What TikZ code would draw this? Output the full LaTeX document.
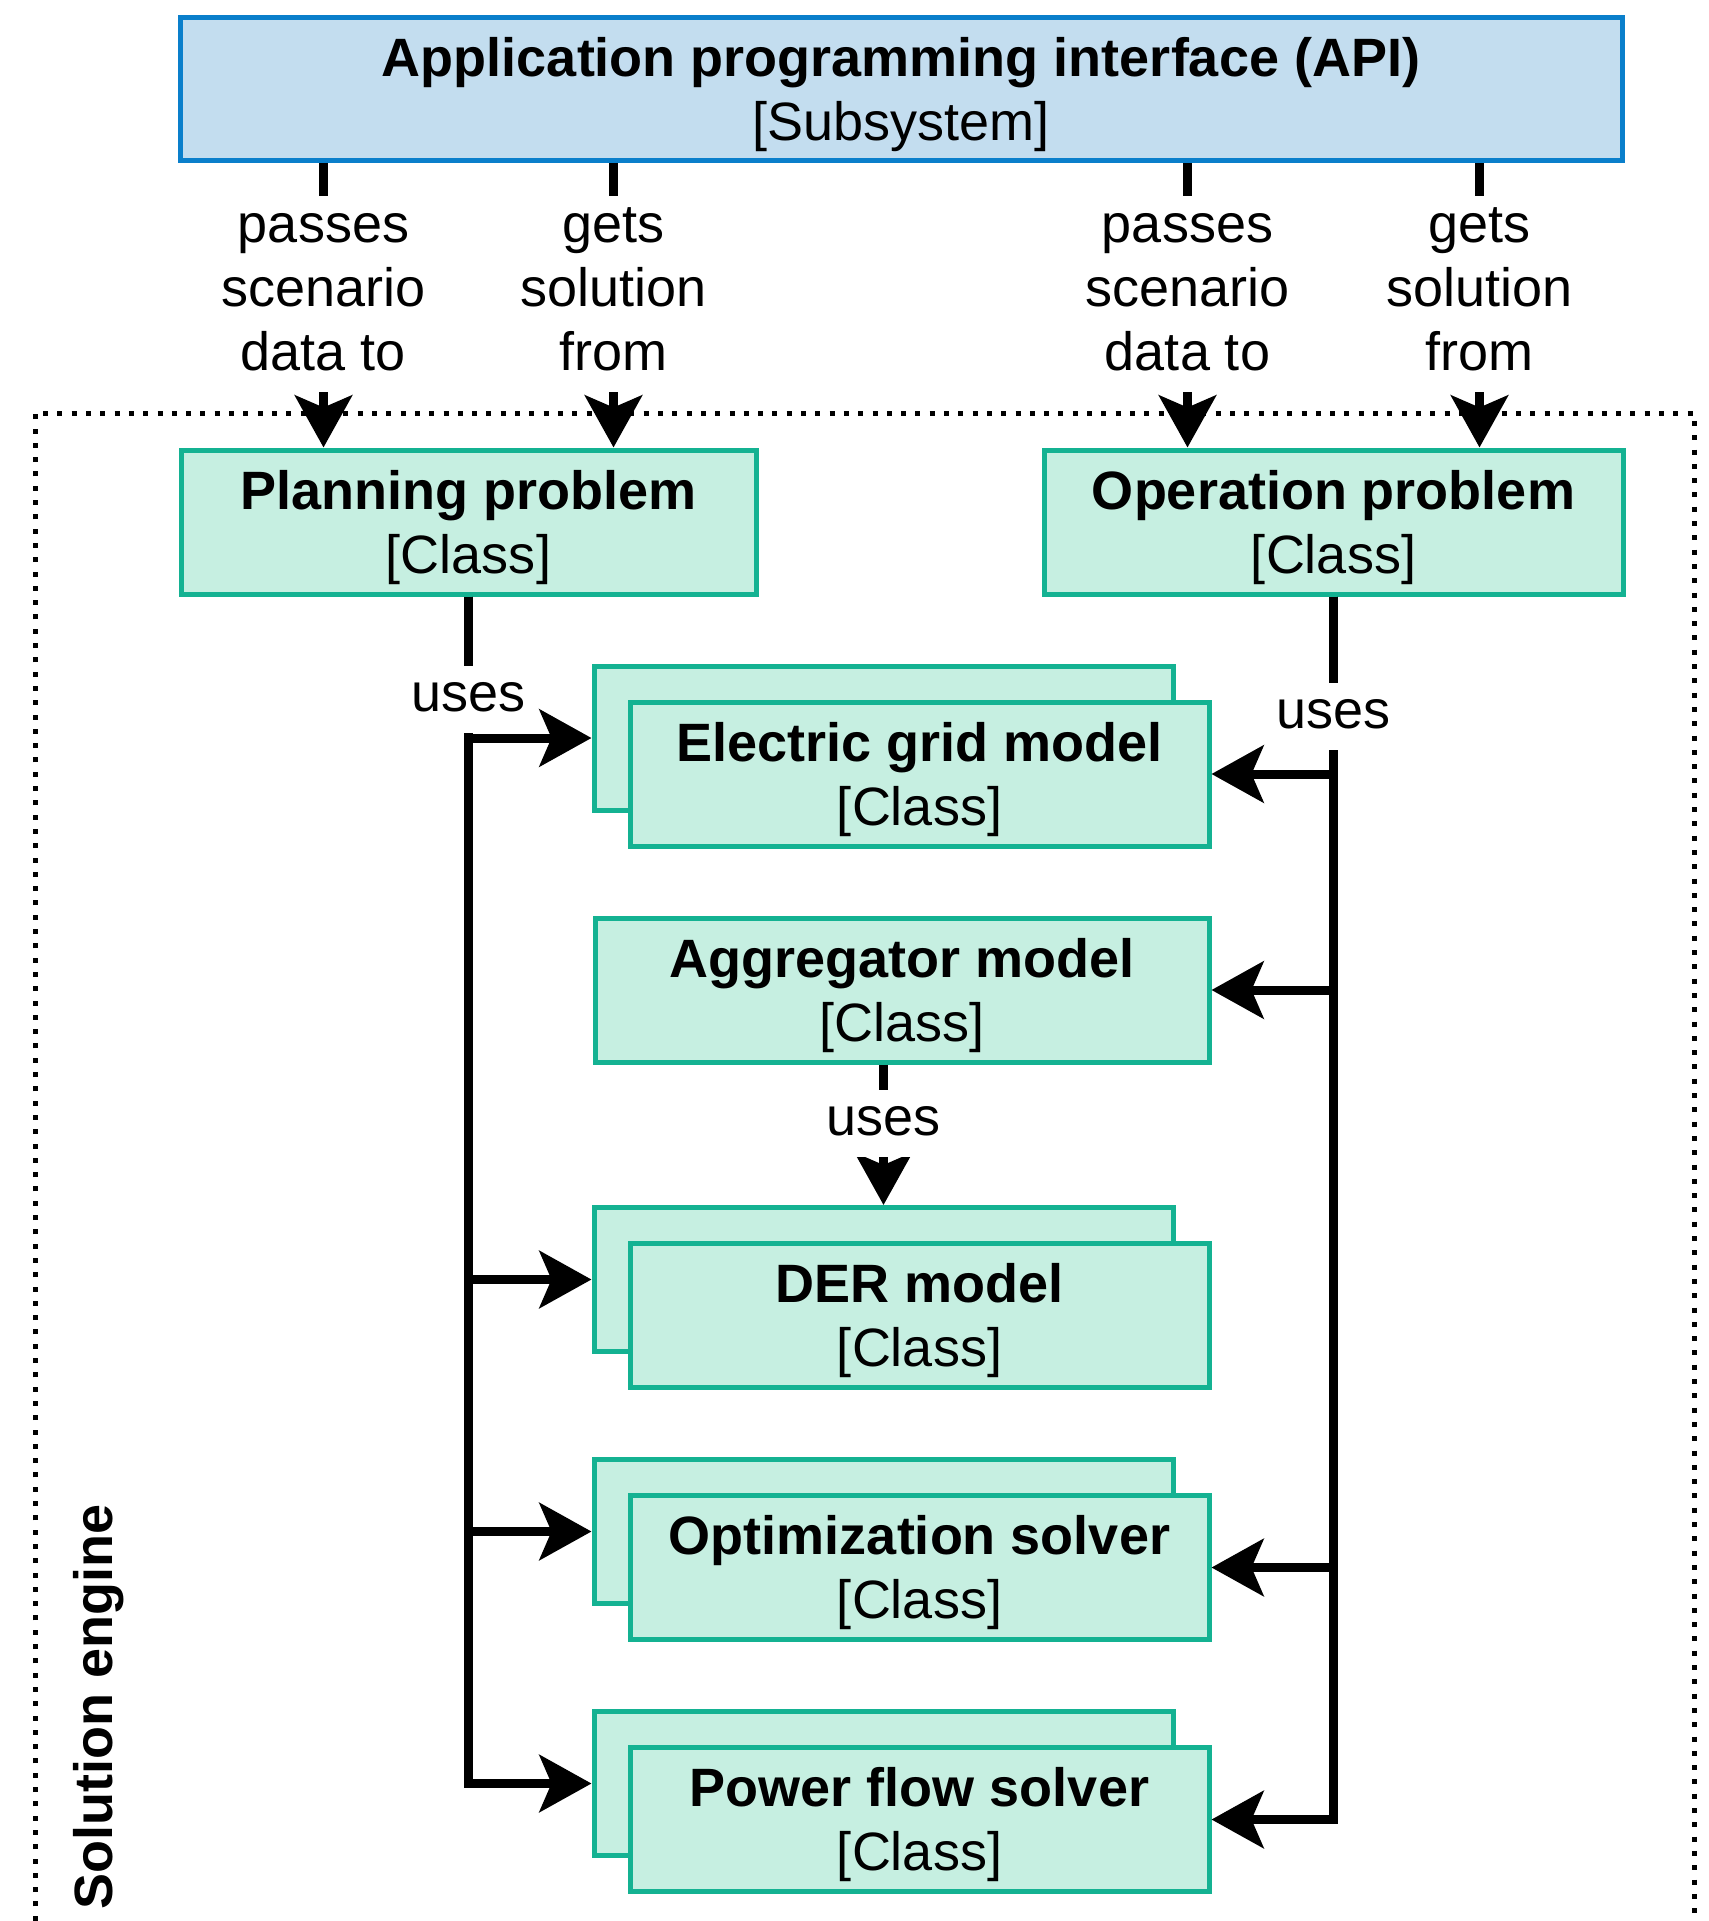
\documentclass[tikz,border=0pt]{standalone}
\usepackage{fontspec}
\setmainfont{Liberation Sans}
\usetikzlibrary{arrows.meta,calc}
\definecolor{apifill}{HTML}{C3DDEF}
\definecolor{apiline}{HTML}{0A7FCB}
\definecolor{clsfill}{HTML}{C6EFE1}
\definecolor{clsline}{HTML}{14B292}
\newcommand\dfont{\fontsize{54pt}{64pt}\selectfont}
\newcommand\up{\rule{0pt}{50pt}}
\begin{document}
\begin{tikzpicture}[x=1pt,y=-1pt,
  apibox/.style={draw=apiline,fill=apifill,line width=5pt,minimum width=1442pt,minimum height=143pt,inner sep=0pt,align=center,font=\dfont},
  clsbox/.style={draw=clsline,fill=clsfill,line width=5pt,minimum width=579pt,minimum height=144pt,inner sep=0pt,align=center,font=\dfont},
  conn/.style={line width=9pt,-{Stealth[length=52pt,width=57pt,inset=12pt]}},
  lbl/.style={fill=white,inner xsep=2pt,inner ysep=1.5pt,align=center,font=\dfont},
  frame/.style={line width=5pt,dash pattern=on 5pt off 9.3pt}
]
\useasboundingbox (0,0) rectangle (1708,1921);
\draw[frame] (35,1935) -- (35,413) -- (1694,413) -- (1694,1935);

\node[apibox] (api) at (901,89.5) {\up\textbf{Application programming interface (API)}\\{[Subsystem]}};
\node[clsbox,minimum width=575pt] (plan) at (468.5,522) {\up\textbf{Planning problem}\\{[Class]}};
\node[clsbox] (oper) at (1333.5,522) {\up\textbf{Operation problem}\\{[Class]}};

\node[clsbox] (egB) at (883.5,738) {};
\node[clsbox] (egF) at (919.5,774) {\up\textbf{Electric grid model}\\{[Class]}};
\node[clsbox,minimum width=614pt] (agg) at (902,990) {\up\textbf{Aggregator model}\\{[Class]}};
\node[clsbox] (derB) at (883.5,1279.5) {};
\node[clsbox] (derF) at (919.5,1315.5) {\up\textbf{DER model}\\{[Class]}};
\node[clsbox] (optB) at (883.5,1531.5) {};
\node[clsbox] (optF) at (919.5,1567.5) {\up\textbf{Optimization solver}\\{[Class]}};
\node[clsbox] (pfB) at (883.5,1783.5) {};
\node[clsbox] (pfF) at (919.5,1819.5) {\up\textbf{Power flow solver}\\{[Class]}};

\node[rotate=90,anchor=base west,inner sep=0pt,font=\dfont\bfseries] (se) at (112,1910) {Solution engine};

\coordinate (p1) at ($(plan.north west)!.25!(plan.north east)$);
\coordinate (p2) at ($(plan.north west)!.75!(plan.north east)$);
\coordinate (o1) at ($(oper.north west)!.25!(oper.north east)$);
\coordinate (o2) at ($(oper.north west)!.75!(oper.north east)$);

\draw[conn] (api.south -| p1) -- (p1);
\draw[conn] (api.south -| p2) -- (p2);
\draw[conn] (api.south -| o1) -- (o1);
\draw[conn] (api.south -| o2) -- (o2);

\draw[conn] (plan.south) |- (egB.west);
\draw[conn] (plan.south) |- (derB.west);
\draw[conn] (plan.south) |- (optB.west);
\draw[conn] (plan.south) |- (pfB.west);

\draw[conn] (oper.south) |- (egF.east);
\draw[conn] (oper.south) |- (agg.east);
\draw[conn] (oper.south) |- (optF.east);
\draw[conn] (oper.south) |- (pfF.east);

\draw[conn] (agg.south -| derB.north) -- (derB.north);

\node[lbl] (t1) at (p1 |- 0,294) {\strut passes\\\strut scenario\\\strut data to};
\node[lbl] (t2) at (p2 |- 0,294) {\strut gets\\\strut solution\\\strut from};
\node[lbl] (t3) at (o1 |- 0,294) {\strut passes\\\strut scenario\\\strut data to};
\node[lbl] (t4) at (o2 |- 0,294) {\strut gets\\\strut solution\\\strut from};
\node[lbl] (u1) at (468.5,699) {\strut uses};
\node[lbl] (u2) at (1333.5,716) {\strut uses};
\node[lbl] (u3) at (883.5,1123) {\strut uses};
\end{tikzpicture}
\end{document}
